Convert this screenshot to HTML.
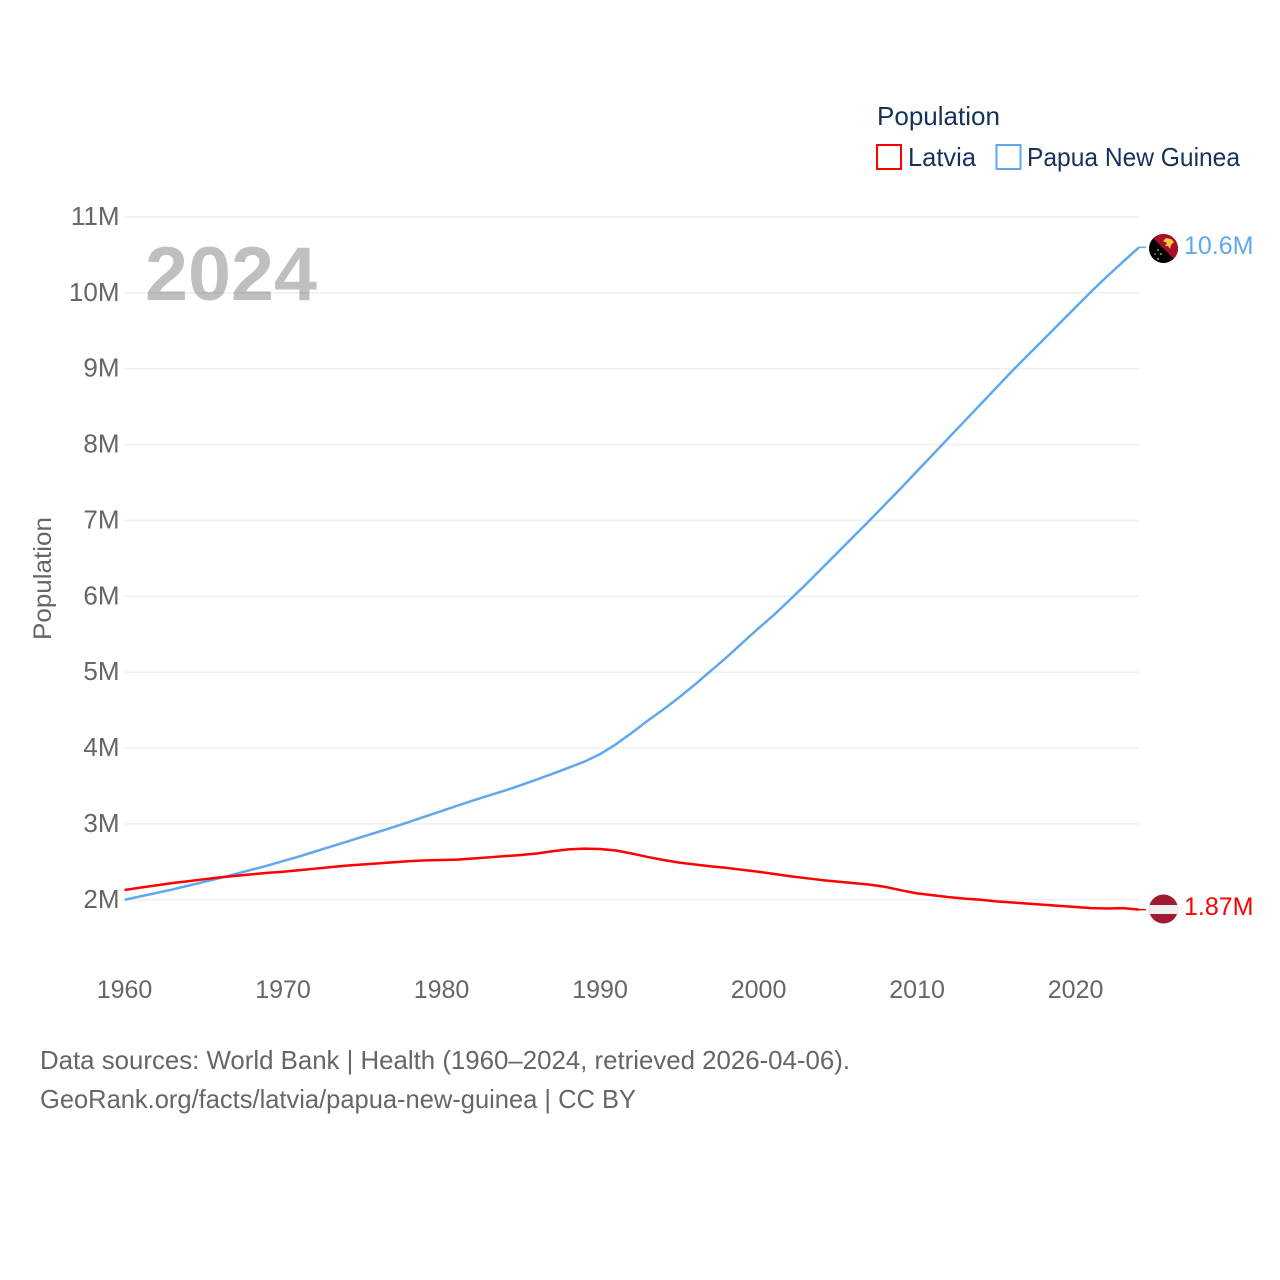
<!DOCTYPE html>
<html lang="en">
<head>
<meta charset="utf-8">
<title>Population: Latvia and Papua New Guinea</title>
<style>
html,body{margin:0;padding:0;background:#fff}
svg{display:block}
text{font-family:"Liberation Sans",sans-serif}
</style>
</head>
<body>
<svg id="chart" xmlns="http://www.w3.org/2000/svg" width="1280" height="1280" viewBox="0 0 1280 1280">
  <defs>
    <clipPath id="png-clip"><circle cx="1163.5" cy="248.5" r="14.5"/></clipPath>
    <clipPath id="lva-clip"><circle cx="1163.5" cy="909" r="14.5"/></clipPath>
  </defs>
  <g id="grid"></g>
  <g id="y-ticks"></g>
  <g id="x-ticks"></g>
  <text x="145" y="300" font-size="76" font-weight="700" fill="#000" fill-opacity="0.25" textLength="172" lengthAdjust="spacingAndGlyphs">2024</text>
  <text transform="translate(51,640) rotate(-90)" font-size="25" fill="#666" textLength="123" lengthAdjust="spacingAndGlyphs">Population</text>
  <g id="series"></g>

  <g>
    <text x="877" y="125" font-size="26" fill="#17325a" textLength="123" lengthAdjust="spacingAndGlyphs">Population</text>
    <g>
      <rect x="877" y="145" width="24" height="24" fill="none" stroke="#ff0000" stroke-width="2"/>
      <text x="908" y="166" font-size="26" fill="#17325a" textLength="68" lengthAdjust="spacingAndGlyphs">Latvia</text>
    </g>
    <g>
      <rect x="996.5" y="145" width="24" height="24" fill="none" stroke="#60a8ee" stroke-width="2"/>
      <text x="1027" y="166" font-size="26" fill="#17325a" textLength="213" lengthAdjust="spacingAndGlyphs">Papua New Guinea</text>
    </g>
  </g>

  <g clip-path="url(#png-clip)">
    <rect x="1148" y="233" width="31" height="31" fill="#000"/>
    <polygon points="1149,234 1178,234 1178,263" fill="#a80f28"/>
    <polygon points="1163,241 1166,238 1171,239 1174,242 1171,245 1170,249 1168,246 1165,246 1167,243" fill="#f7c83c"/>
    <g fill="#c8c8c8">
      <circle cx="1158" cy="250" r="0.9"/>
      <circle cx="1155" cy="254" r="0.8"/>
      <circle cx="1161" cy="254" r="0.9"/>
      <circle cx="1158" cy="259" r="0.9"/>
    </g>
  </g>
  <g clip-path="url(#lva-clip)">
    <rect x="1148" y="894" width="31" height="31" fill="#9e1b32"/>
    <rect x="1148" y="905" width="31" height="9" fill="#efefef"/>
  </g>

  <text x="1184" y="254" font-size="25" fill="#60a8ee">10.6M</text>
  <text x="1184" y="915" font-size="25" fill="#ff0000">1.87M</text>

  <g>
    <text x="40" y="1069" font-size="26" fill="#666" textLength="810" lengthAdjust="spacingAndGlyphs">Data sources: World Bank | Health (1960–2024, retrieved 2026-04-06).</text>
    <text x="40" y="1108" font-size="26" fill="#666" textLength="596" lengthAdjust="spacingAndGlyphs">GeoRank.org/facts/latvia/papua-new-guinea | CC BY</text>
  </g>
</svg>
<script>
var startYear = 1960;
var yTickValues = [2, 3, 4, 5, 6, 7, 8, 9, 10, 11];
var yTickLabels = ["2M", "3M", "4M", "5M", "6M", "7M", "8M", "9M", "10M", "11M"];
var xTickYears = [1960, 1970, 1980, 1990, 2000, 2010, 2020];
var latviaValues = [
  2.13, 2.16, 2.19, 2.22, 2.245, 2.27, 2.295, 2.315, 2.335, 2.355,
  2.37, 2.39, 2.41, 2.43, 2.45, 2.465, 2.48, 2.495, 2.51, 2.52,
  2.525, 2.53, 2.545, 2.56, 2.575, 2.59, 2.61, 2.64, 2.665, 2.675,
  2.67, 2.65, 2.61, 2.565, 2.525, 2.49, 2.465, 2.44, 2.42, 2.395,
  2.37, 2.34, 2.31, 2.285, 2.26, 2.24, 2.22, 2.20, 2.17, 2.125,
  2.085, 2.06, 2.035, 2.015, 2.0, 1.98, 1.965, 1.95, 1.935, 1.92,
  1.905, 1.89, 1.885, 1.89, 1.87
];
var pngValues = [
  2.00, 2.045, 2.09, 2.135, 2.185, 2.235, 2.285, 2.34, 2.395, 2.45,
  2.51, 2.57, 2.635, 2.70, 2.765, 2.83, 2.895, 2.96, 3.03, 3.10,
  3.17, 3.24, 3.31, 3.375, 3.44, 3.51, 3.585, 3.66, 3.74, 3.82,
  3.92, 4.05, 4.20, 4.36, 4.51, 4.67, 4.84, 5.02, 5.20, 5.39,
  5.58, 5.76, 5.96, 6.16, 6.37, 6.58, 6.79, 7.00, 7.215, 7.43,
  7.65, 7.87, 8.09, 8.31, 8.53, 8.75, 8.97, 9.18, 9.39, 9.60,
  9.81, 10.02, 10.22, 10.41, 10.60
];

var SVG_NS = "http://www.w3.org/2000/svg";
function xScale(year) { return 124.5 + (year - 1960) * (1139 - 124.5) / 64; }
function yScale(value) { return 899.8 - (value - 2) * 75.87; }
function make(tag, parent) {
  var el = document.createElementNS(SVG_NS, tag);
  document.getElementById(parent).appendChild(el);
  return el;
}
function linePath(values) {
  return values.map(function (v, i) {
    return (i ? "L" : "M") + xScale(startYear + i).toFixed(2) + " " + yScale(v).toFixed(2);
  }).join("");
}

yTickValues.forEach(function (v, i) {
  var line = make("line", "grid");
  
  
  line.setAttribute("x1", 124.5);
  line.setAttribute("x2", 1139);
  line.setAttribute("y1", yScale(v));
  line.setAttribute("y2", yScale(v));
  line.setAttribute("stroke", "#eeeeee");
  line.setAttribute("stroke-width", "1.5");

  var label = make("text", "y-ticks");
  
  
  label.setAttribute("x", 119.5);
  label.setAttribute("y", yScale(v) + 8);
  label.setAttribute("text-anchor", "end");
  label.setAttribute("font-size", "26");
  label.setAttribute("fill", "#666");
  label.textContent = yTickLabels[i];
});

xTickYears.forEach(function (year) {
  var label = make("text", "x-ticks");
  
  
  label.setAttribute("x", xScale(year));
  label.setAttribute("y", 998);
  label.setAttribute("text-anchor", "middle");
  label.setAttribute("font-size", "25");
  label.setAttribute("fill", "#666");
  label.textContent = year;
});

var pngLine = make("path", "series");


pngLine.setAttribute("d", linePath(pngValues));
pngLine.setAttribute("fill", "none");
pngLine.setAttribute("stroke", "#60a8ee");
pngLine.setAttribute("stroke-width", "2.5");
pngLine.setAttribute("stroke-linejoin", "round");

var latviaLine = make("path", "series");


latviaLine.setAttribute("d", linePath(latviaValues));
latviaLine.setAttribute("fill", "none");
latviaLine.setAttribute("stroke", "#ff0000");
latviaLine.setAttribute("stroke-width", "2.5");
latviaLine.setAttribute("stroke-linejoin", "round");

var pngConnector = make("line", "series");


pngConnector.setAttribute("x1", xScale(2024));
pngConnector.setAttribute("x2", 1146);
pngConnector.setAttribute("y1", yScale(pngValues[pngValues.length - 1]));
pngConnector.setAttribute("y2", yScale(pngValues[pngValues.length - 1]));
pngConnector.setAttribute("stroke", "#60a8ee");
pngConnector.setAttribute("stroke-width", "1.5");

var latviaConnector = make("line", "series");


latviaConnector.setAttribute("x1", xScale(2024));
latviaConnector.setAttribute("x2", 1146);
latviaConnector.setAttribute("y1", yScale(latviaValues[latviaValues.length - 1]));
latviaConnector.setAttribute("y2", yScale(latviaValues[latviaValues.length - 1]));
latviaConnector.setAttribute("stroke", "#ff0000");
latviaConnector.setAttribute("stroke-width", "1.5");
</script>
</body>
</html>
